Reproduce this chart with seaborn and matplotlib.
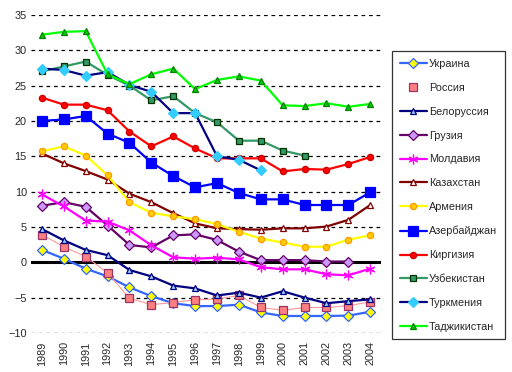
import numpy as np
import pandas as pd
import matplotlib
matplotlib.use('Agg')
import matplotlib.pyplot as plt
import seaborn as sns
from matplotlib.lines import Line2D

years = list(range(1989, 2005))
nan = np.nan

ukraine = [1.75, 0.5, -0.9, -2.0, -3.55, -4.8, -5.8, -6.2, -6.2, -6.0, -7.1, -7.6, -7.6, -7.6, -7.55, -7.0]
russia = [3.9, 2.2, 0.8, -1.5, -5.1, -6.0, -5.7, -5.3, -5.2, -4.7, -6.4, -6.8, -6.4, -6.4, -6.15, -5.6]
belarus = [4.7, 3.1, 1.75, 1.0, -1.1, -2.0, -3.3, -3.7, -4.7, -4.3, -5.0, -4.1, -5.0, -5.8, -5.5, -5.25]
georgia = [8.0, 8.5, 7.85, 5.2, 2.45, 2.1, 3.8, 3.95, 3.15, 1.5, 0.3, 0.3, 0.3, 0.1, 0.1, nan]
moldova = [9.6, 7.9, 5.9, 5.75, 4.5, 2.4, 0.7, 0.5, 0.65, 0.4, -0.7, -1.0, -1.0, -1.7, -1.85, -0.9]
kazakhstan = [15.4, 14.0, 12.9, 11.7, 9.7, 8.5, 6.95, 5.5, 4.8, 4.7, 4.6, 4.8, 4.8, 5.05, 6.0, 8.1]
armenia = [15.7, 16.4, 15.1, 12.3, 8.5, 7.0, 6.5, 6.1, 5.4, 4.3, 3.35, 2.8, 2.2, 2.2, 3.2, 3.8]
azerbaijan = [20.0, 20.2, 20.7, 18.2, 16.9, 14.1, 12.2, 10.6, 11.2, 9.8, 8.9, 8.9, 8.1, 8.1, 8.1, 9.9]
kyrgyzstan = [23.3, 22.3, 22.3, 21.5, 18.5, 16.4, 17.8, 16.1, 14.7, 14.7, 14.7, 12.85, 13.2, 13.1, 13.9, 14.9]
uzbekistan = [27.0, 27.7, 28.4, 26.5, 25.0, 22.9, 23.5, 21.1, 19.8, 17.2, 17.2, 15.8, 15.1, nan, nan, nan]
turkmenistan = [27.4, 27.2, 26.4, 26.9, 25.1, 24.1, 21.1, 21.1, 15.0, 14.5, 13.0, nan, nan, nan, nan, nan]
tajikistan = [32.2, 32.6, 32.7, 26.6, 25.2, 26.6, 27.4, 24.5, 25.8, 26.3, 25.7, 22.2, 22.1, 22.5, 22.0, 22.4]

# name, values, line colour, marker, marker face, marker edge, marker size, line width
series = [
    ('Украина', ukraine, '#3366FF', 'D', '#FFFF00', '#3366FF', 5.5, 1.6),
    ('Россия', russia, '#FF9999', 's', '#FF8080', '#993366', 6, 0.8),
    ('Белоруссия', belarus, '#000080', '^', '#99CCFF', '#000080', 5, 1.6),
    ('Грузия', georgia, '#660066', 'D', '#CC99FF', '#660066', 5.5, 1.6),
    ('Молдавия', moldova, '#FF00FF', (6, 2, 0), '#FF00FF', '#FF00FF', 7, 1.6),
    ('Казахстан', kazakhstan, '#800000', '^', '#FFFFFF', '#800000', 5, 1.6),
    ('Армения', armenia, '#FFFF00', 'o', '#FFCC00', '#FF9900', 4.5, 1.6),
    ('Азербайджан', azerbaijan, '#0000FF', 's', '#0000FF', '#0000FF', 7.5, 1.6),
    ('Киргизия', kyrgyzstan, '#FF0000', 'o', '#FF0000', '#CC0000', 4.5, 1.6),
    ('Узбекистан', uzbekistan, '#339966', 's', '#339966', '#003300', 5, 1.6),
    ('Туркмения', turkmenistan, '#000080', 'D', '#33CCFF', '#33CCFF', 5, 1.6),
    ('Таджикистан', tajikistan, '#00FF00', '^', '#00CC00', '#008000', 5, 1.6),
]

sns.set_style('white')
plt.rcParams['font.family'] = ['Liberation Sans', 'DejaVu Sans']

fig = plt.figure(figsize=(5.12, 3.72), dpi=100)
ax = fig.add_axes([0.0605, 0.105, 0.684, 0.855])

handles = []
for name, vals, lc, mk, mfc, mec, ms, lw in series:
    df = pd.DataFrame({'year': years, 'value': vals}).dropna()
    sns.lineplot(data=df, x='year', y='value', ax=ax, color=lc, lw=lw,
                 marker=mk, markersize=ms, markerfacecolor=mfc,
                 markeredgecolor=mec, markeredgewidth=0.9, zorder=3)
    if name == 'Россия':
        h = Line2D([], [], ls='none', marker=mk, ms=ms, mfc=mfc, mec=mec, mew=0.9)
    else:
        h = Line2D([], [], color=lc, lw=lw, marker=mk, ms=ms, mfc=mfc, mec=mec, mew=0.9)
    handles.append(h)

for y in range(-10, 40, 5):
    if y != 0:
        ax.axhline(y, color='black', lw=0.9, ls=(0, (3, 3)), zorder=1)
ax.axhline(0, color='black', lw=2.2, zorder=2)

ax.set_xlim(1988.5, 2004.5)
ax.set_ylim(-10, 35)
ax.set_yticks(range(-10, 40, 5))
ax.set_xticks(years)
ax.set_xticklabels([str(y) for y in years], rotation=90)
ax.tick_params(axis='both', length=0, labelsize=7.8, pad=3)
ax.tick_params(axis='x', pad=6)
ax.set_xlabel('')
ax.set_ylabel('')
for s in ax.spines.values():
    s.set_visible(False)

leg = fig.legend(handles, [s[0] for s in series], loc='upper left',
                 bbox_to_anchor=(0.766, 0.862), fontsize=7.8, frameon=True,
                 fancybox=False, handlelength=2.5, handletextpad=0.2,
                 labelspacing=1.28, borderpad=0.7, borderaxespad=0)
leg.get_frame().set_edgecolor('black')
leg.get_frame().set_linewidth(0.9)

fig.savefig('out.png', dpi=100)
